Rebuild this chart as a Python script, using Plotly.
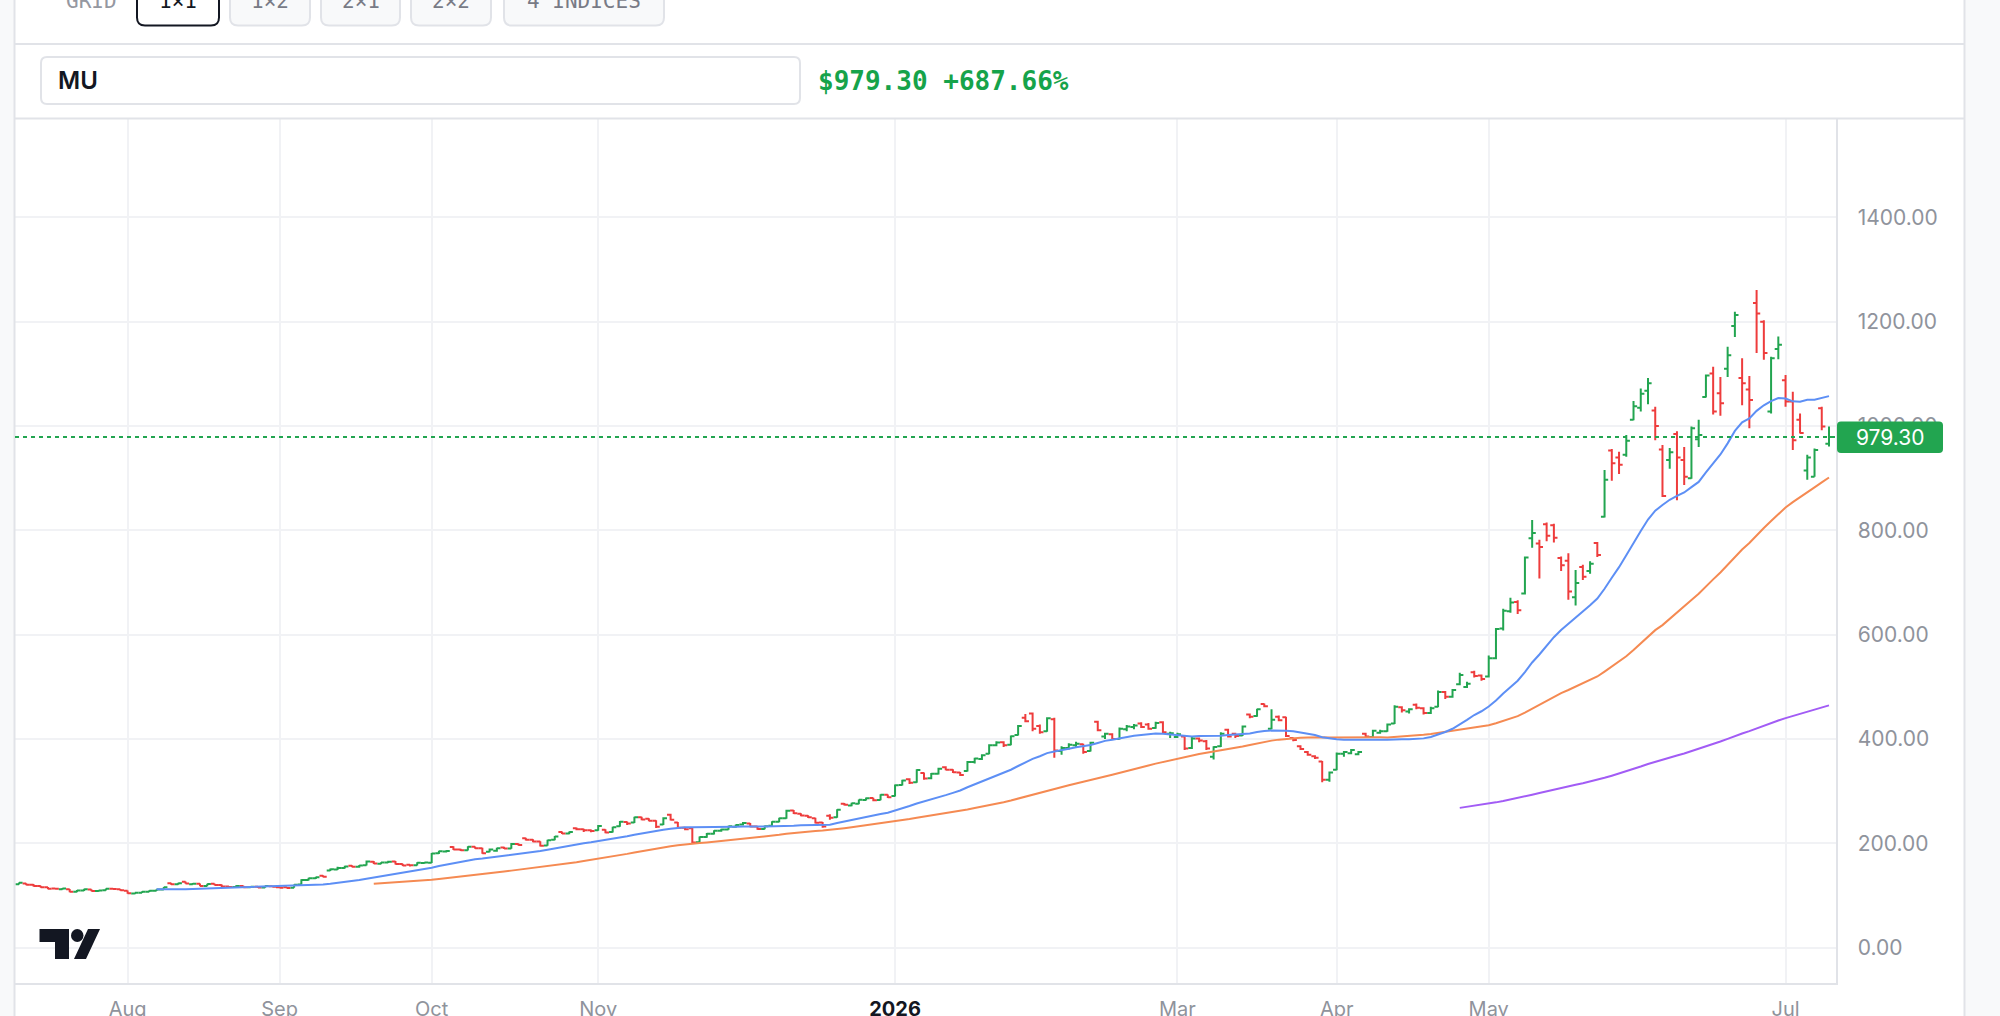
import plotly.graph_objects as go
import pandas as pd

W, H = 2000, 1016

# ---------------- data (daily OHLC) ----------------
opens = [
    # Jul 2025
    121.5, 123, 120.5, 118.5, 116, 113.5, 112, 112, 107.5, 109.5, 111.5, 108.5, 110, 113, 112,
    # Aug
    109, 104, 105.5, 107.5, 109, 111.5, 123.5, 121.5, 126.5, 121.5, 122.5, 118.5, 122.5, 120, 117.5,
    116.5, 118.5, 116, 117, 115.5, 118,
    # Sep
    116, 116, 115, 121, 130, 133, 138, 148, 150, 153, 157, 155, 158, 165, 161, 163.5, 165.5, 160.5,
    159, 158, 162.5,
    # Oct
    163, 181, 184.5, 193, 188.5, 187, 193.5, 190.5, 184, 186, 192, 190, 199, 210, 207, 203.5, 196,
    207, 222, 219, 229, 227, 225,
    # Nov
    225, 226, 222, 233, 241, 240, 250, 247, 243.5, 236, 255, 240, 230, 229, 202, 212, 218.5, 224,
    226.5,
    # Dec
    232, 236, 238, 232.5, 227.5, 234, 241.5, 248, 263, 257, 253, 248, 240, 253, 250, 276, 272.5,
    276, 283, 287, 283, 293,
    # Jan 2026
    291, 312, 323, 317, 335, 325, 333.5, 346, 341, 336, 339, 356, 362, 372, 388, 394, 389, 408, 441,
    449,
    # Feb
    425, 415, 438, 377, 383, 388, 390, 377, 433, 405, 409, 400, 419, 423, 430, 428, 421, 432, 410,
    # Mar
    404, 405, 383, 401, 396, 366, 386, 418, 410, 407, 447, 444, 467, 420, 443, 442, 402, 386, 375,
    367, 357, 322,
    # Apr
    341, 372, 373, 371, 410, 404, 412, 415, 430, 461, 453, 466, 459, 450, 462, 490, 481, 505, 500,
    528, 522,
    # May
    520, 555, 612, 645, 663, 679, 785, 775, 812, 810, 747, 742, 672, 730, 722, 776, 826, 953, 940,
    945,
    # Jun
    1012, 1035, 1068, 1030, 955, 935, 985, 935, 900, 975, 1056, 1101, 1063, 1110, 1192, 1092, 1070,
    1236, 1200, 1028, 1148,
    # Jul
    1088, 1047, 1012, 915, 903, 1034, 966,
]
highs = [
    125, 123.5, 122, 119, 116.5, 115, 114.5, 112.5, 110.5, 113, 112, 110.5, 113.5, 114, 112.5,
    109.5, 106, 108, 110, 112, 116.5, 124.5, 124.5, 127, 124, 123, 122.5, 123, 121, 118.5,
    119.5, 119, 117.5, 117.5, 119, 118.5,
    116.5, 116.5, 121, 131, 134, 136, 139, 152, 155, 157, 158, 158.5, 167, 166, 164, 166.5, 166, 161,
    159.5, 164, 164.5,
    181.5, 186, 187, 194.5, 189.5, 194.5, 194, 191.5, 190, 191.5, 193.5, 200.5, 200, 211, 208, 204,
    207, 214, 223, 223, 230.5, 228, 226.5,
    235, 227, 232, 243, 242, 251, 251, 248, 244.5, 250, 257, 241, 231, 229.5, 213, 220, 225, 228,
    234,
    236, 241, 239, 233.5, 234.5, 242.5, 249, 264.5, 264, 258, 254, 249, 241, 256, 265.5, 277.5, 278,
    284, 288, 287.5, 294, 293.5,
    313, 322, 325, 342, 336, 335, 345, 348, 342, 337, 358, 364, 371, 390, 396, 396, 407, 427, 448,
    451,
    428, 442, 441, 386, 392, 395, 391, 395, 435, 412, 411, 422, 427, 429, 432, 431, 433, 434, 414,
    412, 407, 404, 403, 398, 386, 413, 420, 412, 426, 449, 458, 468, 457, 445, 443, 403, 388, 377,
    369, 358, 338,
    374, 377, 381, 377, 412, 418, 418, 430, 465, 463, 459, 468, 461, 462, 493, 492, 496, 527, 510,
    531, 524,
    560, 613, 650, 671, 666, 750, 820, 782, 815, 813, 750, 756, 724, 734, 741, 778, 916, 956, 951,
    983,
    1048, 1072, 1092, 1037, 964, 958, 990, 960, 999, 1012, 1099, 1114, 1094, 1152, 1219, 1130, 1096,
    1261, 1203, 1133, 1172,
    1098, 1066, 1024, 945, 957, 1037, 999,
]
lows = [
    121, 119.5, 117.5, 115, 112, 111.5, 111, 106.5, 106.5, 108.5, 108, 107.5, 109.5, 111.5, 109,
    103.5, 102.5, 105, 107, 108.5, 111, 120.5, 120.5, 122.5, 120.5, 118, 118, 119.5, 116.5, 115.5,
    116, 115.5, 115, 114.5, 115, 116,
    114, 113.5, 115, 120.5, 129, 131.5, 135, 147, 149, 152, 154, 153.5, 157.5, 160.5, 160, 162.5,
    159.5, 156.5, 155.5, 157.5, 161,
    162.5, 179.5, 182.5, 187.5, 185.5, 186.5, 189.5, 180, 183, 184, 189, 189.5, 195.5, 205.5, 202,
    194, 195.5, 206, 218, 217.5, 225, 222, 221.5,
    224, 219.5, 221, 232, 235, 239, 244.5, 242.5, 229.5, 235, 244, 228, 225, 199.5, 200, 211, 217,
    222.5, 226,
    230, 234.5, 231, 226, 227, 233, 240.5, 247, 256.5, 252, 248.5, 238, 230, 245.5, 249, 272.5, 271,
    275, 282, 281, 282.5, 287,
    290, 311, 314, 316, 322, 323, 332, 340, 335, 329, 338, 353, 360, 371, 386, 385, 388, 407, 432,
    415,
    410, 414, 364, 370, 380, 384, 372, 376, 415, 400, 398, 399, 415, 419, 421, 418, 420, 410, 402,
    402, 379, 381, 394, 379, 361, 385, 403, 402, 406, 440, 443, 461, 419, 434, 404, 396, 379, 368,
    362, 317, 318,
    340, 366, 371, 369, 403, 403, 410, 414, 429, 451, 449, 457, 447, 448, 461, 477, 479, 503, 498,
    518, 512,
    518, 553, 608, 642, 640, 677, 767, 708, 779, 777, 722, 667, 656, 705, 717, 749, 825, 895, 908,
    941,
    1011, 1028, 1042, 973, 864, 918, 858, 887, 899, 960, 1055, 1022, 1020, 1094, 1171, 1040, 996,
    1140, 1127, 1024, 1128,
    1037, 954, 986, 897, 903, 992, 961,
]
closes = [
    124.33, 120.5, 118.5, 116, 113, 112.8, 113.5, 107.5, 109.5, 112, 108.7, 109.5, 112.8, 112.5, 110,
    104.5, 105.5, 107.5, 109, 111.5, 116, 121.5, 123.5, 123, 122.5, 118.5, 122, 120, 117.5, 116.5,
    118.5, 116, 117, 115.5, 118.5, 117,
    115, 114.5, 120.5, 130, 133, 135, 136, 150.5, 153, 155.5, 155, 157.5, 165.5, 161.5, 163.5, 165,
    160.5, 157.5, 158, 163, 163.5,
    180.5, 185, 185.5, 188.5, 187, 193.5, 190.5, 181, 188.5, 190.5, 190, 199, 197, 207, 203.5, 195.5,
    206, 213, 219, 222, 227, 225, 223.5,
    233.5, 221, 231, 241.5, 238, 250, 246, 243.5, 232, 248, 245.5, 230, 227, 201.5, 212, 218.5, 224,
    226.5, 233,
    235, 239, 232.5, 227.5, 233, 241.5, 248, 262.5, 258, 253.5, 250, 239.5, 232.5, 249, 264.5, 274,
    277, 283.5, 286.5, 282.5, 293, 288.5,
    311.5, 320.5, 316, 340.5, 324.5, 333.5, 343, 341, 336.5, 331, 356, 362.5, 369, 388, 393.5, 388,
    405.5, 425, 434, 420,
    413, 440, 378, 383, 389, 391, 375, 393, 417, 410, 400, 420, 424, 426, 423, 420, 431, 413, 411,
    409, 382, 401, 397, 382, 385, 410, 405, 406, 424, 443, 457, 463, 437, 436, 406, 398, 381, 370,
    364, 322, 336,
    372, 375, 379, 375, 405, 416, 415, 428, 462, 455, 457, 460, 450, 459, 490, 481, 494, 523, 506,
    521, 515,
    555, 611, 646, 662, 647, 748, 795, 768, 790, 786, 733, 683, 699, 711, 736, 753, 897, 929, 926,
    972,
    1038, 1062, 1082, 1000, 866, 950, 940, 903, 996, 983, 1097, 1028, 1044, 1136, 1213, 1082, 1050,
    1216, 1140, 1130, 1156,
    1047, 973, 987, 940, 954, 999, 979.3,
]

holidays = ["2025-09-01", "2025-11-27", "2025-12-25", "2026-01-01", "2026-01-19",
            "2026-02-16", "2026-04-03", "2026-05-25", "2026-06-19", "2026-07-03"]
dates = pd.bdate_range("2025-07-11", "2026-07-10", freq="C", holidays=holidays)

x_tick_dates = ["2025-08-01", "2025-09-02", "2025-10-01", "2025-11-03", "2026-01-02",
                "2026-03-02", "2026-04-01", "2026-05-01", "2026-07-01"]
x_tick_labels = ["Aug", "Sep", "Oct", "Nov", "2026", "Mar", "Apr", "May", "Jul"]
y_ticks = [0, 200, 400, 600, 800, 1000, 1200, 1400]

ticker = "MU"
last_price = closes[-1]
change_pct = 687.66

n = min(len(dates), len(closes))
xs = list(range(n))
date_pos = {d.strftime("%Y-%m-%d"): i for i, d in enumerate(dates)}
tickvals = [date_pos[d] for d in x_tick_dates]
ticktext = [("<b><span style='color:#131722'>%s</span></b>" % t) if t.isdigit() else t
            for t in x_tick_labels]

cl = pd.Series(closes[:n])
ma20 = cl.rolling(20).mean()
ma50 = cl.rolling(50).mean()
ma200 = cl.rolling(200).mean()

GREEN = "#22a550"
RED = "#ee3c3c"
BLUE = "#5d8ff5"
ORANGE = "#f58a52"
PURPLE = "#a25cf5"
GRID = "#f1f2f5"
BORDER = "#e1e3e8"
GRAY_TXT = "#8f939c"

fig = go.Figure()
fig.add_trace(go.Scatter(x=xs, y=ma200, mode="lines", line=dict(color=PURPLE, width=2),
                         hoverinfo="skip"))
fig.add_trace(go.Scatter(x=xs, y=ma50, mode="lines", line=dict(color=ORANGE, width=2),
                         hoverinfo="skip"))
fig.add_trace(go.Scatter(x=xs, y=ma20, mode="lines", line=dict(color=BLUE, width=2),
                         hoverinfo="skip"))
fig.add_trace(go.Ohlc(x=xs, open=opens[:n], high=highs[:n], low=lows[:n], close=closes[:n],
                      increasing=dict(line=dict(color=GREEN, width=2)),
                      decreasing=dict(line=dict(color=RED, width=2)),
                      tickwidth=0.5, hoverinfo="skip"))

# plot area in pixels
PL, PR, PT, PB = 15, 1835.5, 118.6, 983


def px(v):
    return v / W


def py(v):
    return 1 - v / H


def rrect(x0, y0, x1, y1, r):
    pts = [
        ("M", [(x0 + r, y0)]), ("L", [(x1 - r, y0)]), ("Q", [(x1, y0), (x1, y0 + r)]),
        ("L", [(x1, y1 - r)]), ("Q", [(x1, y1), (x1 - r, y1)]), ("L", [(x0 + r, y1)]),
        ("Q", [(x0, y1), (x0, y1 - r)]), ("L", [(x0, y0 + r)]), ("Q", [(x0, y0), (x0 + r, y0)]),
    ]
    s = ""
    for cmd, ps in pts:
        s += cmd + " " + " ".join("%.5f,%.5f" % (px(a), py(b)) for a, b in ps) + " "
    return s + "Z"


def poly(points):
    return "M " + " L ".join("%.5f,%.5f" % (px(a), py(b)) for a, b in points) + " Z"


shapes = []
# side backgrounds
shapes.append(dict(type="rect", xref="paper", yref="paper", x0=px(1965), x1=1, y0=0, y1=1,
                   fillcolor="#f8f9fa", line=dict(width=0), layer="below"))
shapes.append(dict(type="rect", xref="paper", yref="paper", x0=0, x1=px(14), y0=0, y1=1,
                   fillcolor="#f8f9fa", line=dict(width=0), layer="below"))
# panel borders
for xv in (14.5, 1964.5):
    shapes.append(dict(type="line", xref="paper", yref="paper", x0=px(xv), x1=px(xv), y0=0, y1=1,
                       line=dict(color=BORDER, width=2)))
for yv in (44, PT):
    shapes.append(dict(type="line", xref="paper", yref="paper", x0=px(14.5), x1=px(1964.5),
                       y0=py(yv), y1=py(yv), line=dict(color=BORDER, width=2)))
# toolbar buttons
buttons = [("1×1", 137, 219, True), ("1×2", 230, 310, False), ("2×1", 321, 400, False),
           ("2×2", 411, 491, False), ("4 INDICES", 504, 664, False)]
for label, bx0, bx1, active in buttons:
    shapes.append(dict(type="path", xref="paper", yref="paper", path=rrect(bx0, -12, bx1, 25.5, 8),
                       fillcolor="#ffffff" if active else "#f8f9fa",
                       line=dict(color="#131722" if active else BORDER, width=2)))
# ticker input box
shapes.append(dict(type="path", xref="paper", yref="paper", path=rrect(41, 57, 800, 104, 6),
                   fillcolor="#ffffff", line=dict(color=BORDER, width=2)))
# last price dotted line
shapes.append(dict(type="line", xref="x domain", yref="y", x0=0, x1=1, y0=last_price, y1=last_price,
                   line=dict(color=GREEN, width=2, dash="4px,4px")))
# last price label
shapes.append(dict(type="path", xref="paper", yref="paper", path=rrect(1837, 421.5, 1943, 453, 4),
                   fillcolor=GREEN, line=dict(width=0), layer="above"))
# TradingView logo
LOGO = "#131722"
shapes.append(dict(type="path", xref="paper", yref="paper",
                   path=poly([(39.5, 929), (69, 929), (69, 959), (55, 959), (55, 942), (39.5, 942)]),
                   fillcolor=LOGO, line=dict(width=0)))
shapes.append(dict(type="circle", xref="paper", yref="paper", x0=px(71), x1=px(83.5),
                   y0=py(942), y1=py(929), fillcolor=LOGO, line=dict(width=0)))
shapes.append(dict(type="path", xref="paper", yref="paper",
                   path=poly([(88, 929), (100, 929), (86, 959), (74, 959)]),
                   fillcolor=LOGO, line=dict(width=0)))

annotations = []
MONO = "DejaVu Sans Mono"
annotations.append(dict(xref="paper", yref="paper", x=px(91), y=py(15), text="GRID",
                        showarrow=False, xanchor="center", yanchor="bottom",
                        font=dict(family=MONO, size=21, color="#9598a1")))
for label, bx0, bx1, active in buttons:
    annotations.append(dict(xref="paper", yref="paper", x=px((bx0 + bx1) / 2), y=py(15), text=label,
                            showarrow=False, xanchor="center", yanchor="bottom",
                            font=dict(family=MONO, size=21,
                                      color="#131722" if active else "#787b86")))
annotations.append(dict(xref="paper", yref="paper", x=px(56), y=py(81), text=ticker,
                        showarrow=False, xanchor="left", yanchor="middle",
                        font=dict(family="Inter", size=24, color="#131722", weight=600)))
annotations.append(dict(xref="paper", yref="paper", x=px(816), y=py(81),
                        text="$%.2f +%.2f%%" % (last_price, change_pct),
                        showarrow=False, xanchor="left", yanchor="middle",
                        font=dict(family=MONO, size=26, color="#16a34a", weight="bold")))
annotations.append(dict(xref="paper", yref="paper", x=px(1890), y=py(437.5),
                        text="%.2f" % last_price, showarrow=False, xanchor="center",
                        yanchor="middle", font=dict(family="Inter", size=21, color="#ffffff")))

ymin = (947.7 - PB) / 0.5216
ymax = (947.7 - PT) / 0.5216
xmin = (PL - 19) / 7.24
xmax = (PR - 19) / 7.24

fig.update_layout(
    width=W, height=H, margin=dict(l=0, r=0, t=0, b=0, autoexpand=False),
    paper_bgcolor="#ffffff", plot_bgcolor="#ffffff", showlegend=False,
    shapes=shapes, annotations=annotations,
    xaxis=dict(domain=[px(PL), px(PR)], range=[xmin, xmax], tickvals=tickvals, ticktext=ticktext,
               showgrid=True, gridcolor=GRID, gridwidth=2, zeroline=False, automargin=False,
               showline=True, linecolor=BORDER, linewidth=2, ticks="",
               tickfont=dict(family="Inter", size=20, color=GRAY_TXT), ticklabelstandoff=7,
               rangeslider=dict(visible=False), fixedrange=True),
    yaxis=dict(domain=[py(PB), py(PT)], range=[ymin, ymax], side="right", tickvals=y_ticks,
               ticktext=["%.2f" % v for v in y_ticks], showgrid=True, gridcolor=GRID, gridwidth=2,
               zeroline=False, showline=True, linecolor=BORDER, linewidth=2, ticks="",
               automargin=False,
               tickfont=dict(family="Inter", size=21, color=GRAY_TXT), ticklabelstandoff=16,
               fixedrange=True),
)

fig.write_html("out.html", config={"displayModeBar": False})
